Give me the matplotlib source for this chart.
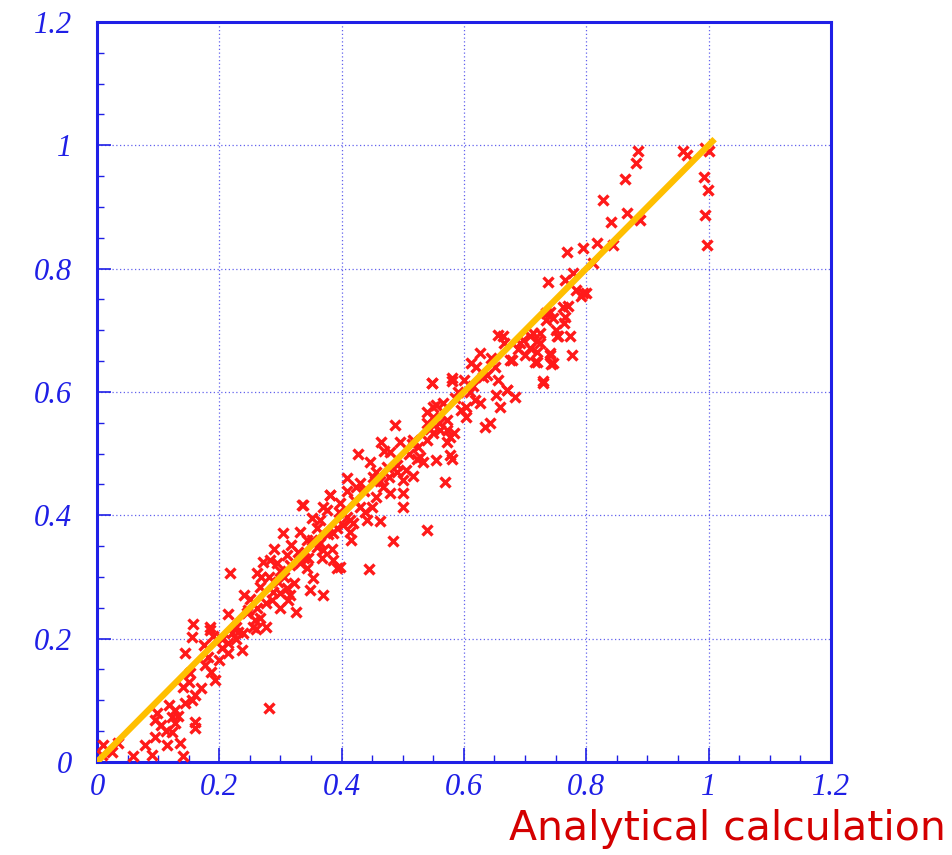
import matplotlib
matplotlib.use("Agg")
import matplotlib.pyplot as plt
import numpy as np

# red crosses (data units)
low_x = [0.010, 0.008, 0.025, 0.035, 0.059, 0.090, 0.141, 0.078, 0.114, 0.136, 0.095, 0.123,
         0.160, 0.160, 0.128, 0.095, 0.098, 0.123, 0.128, 0.144, 0.155, 0.160, 0.141, 0.152,
         0.193, 0.187, 0.177, 0.144, 0.156, 0.157, 0.185, 0.190, 0.221, 0.214, 0.230, 0.214,
         0.237, 0.258, 0.260, 0.247, 0.281, 0.217, 0.105, 0.118, 0.170, 0.200, 0.175, 0.112,
         0.132, 0.150, 0.182, 0.205, 0.228]
low_y = [0.028, 0.011, 0.016, 0.030, 0.010, 0.011, 0.010, 0.028, 0.028, 0.031, 0.041, 0.049,
         0.055, 0.065, 0.063, 0.068, 0.079, 0.073, 0.084, 0.096, 0.100, 0.109, 0.122, 0.144,
         0.133, 0.146, 0.157, 0.177, 0.202, 0.224, 0.214, 0.205, 0.209, 0.193, 0.211, 0.177,
         0.182, 0.230, 0.215, 0.246, 0.088, 0.306, 0.060, 0.092, 0.120, 0.165, 0.190, 0.050,
         0.075, 0.130, 0.170, 0.185, 0.200]

mid_x = [0.335, 0.381, 0.376, 0.408, 0.304, 0.332, 0.343, 0.318, 0.283, 0.294, 0.272, 0.310,
         0.332, 0.343, 0.359, 0.370, 0.386, 0.392, 0.354, 0.370, 0.348, 0.310, 0.299, 0.316,
         0.288, 0.266, 0.261, 0.277, 0.299, 0.326, 0.245, 0.266, 0.255, 0.228, 0.277, 0.185,
         0.239, 0.419, 0.416, 0.424, 0.397, 0.250, 0.268, 0.290, 0.305, 0.322, 0.360, 0.345,
         0.215, 0.205, 0.240, 0.262, 0.282, 0.300, 0.315, 0.328, 0.338, 0.352, 0.365, 0.378,
         0.392, 0.402, 0.286, 0.296, 0.312, 0.368, 0.384]
mid_y = [0.417, 0.433, 0.409, 0.398, 0.371, 0.373, 0.360, 0.352, 0.328, 0.322, 0.324, 0.336,
         0.322, 0.315, 0.349, 0.344, 0.328, 0.315, 0.298, 0.271, 0.279, 0.282, 0.274, 0.271,
         0.276, 0.284, 0.306, 0.258, 0.250, 0.243, 0.242, 0.233, 0.219, 0.219, 0.219, 0.219,
         0.209, 0.388, 0.360, 0.446, 0.316, 0.265, 0.300, 0.345, 0.300, 0.290, 0.380, 0.330,
         0.240, 0.200, 0.270, 0.250, 0.300, 0.310, 0.320, 0.340, 0.330, 0.360, 0.355, 0.370,
         0.380, 0.385, 0.262, 0.292, 0.262, 0.330, 0.345]

upper_x = [0.547, 0.580, 0.539, 0.555, 0.550, 0.572, 0.583, 0.561, 0.539, 0.572, 0.487, 0.465,
           0.479, 0.495, 0.523, 0.533, 0.555, 0.580, 0.427, 0.446, 0.457, 0.474, 0.506, 0.517,
           0.500, 0.569, 0.430, 0.468, 0.479, 0.500, 0.457, 0.449, 0.500, 0.408, 0.408, 0.381,
           0.370, 0.337, 0.430, 0.414, 0.441, 0.463, 0.414, 0.539, 0.365, 0.386, 0.445, 0.484,
           0.395, 0.455, 0.490, 0.515, 0.470, 0.352, 0.420, 0.436, 0.452, 0.462, 0.478, 0.490,
           0.510, 0.525, 0.545, 0.560, 0.438, 0.398]
upper_y = [0.614, 0.617, 0.568, 0.579, 0.560, 0.555, 0.533, 0.538, 0.522, 0.519, 0.546, 0.519,
           0.503, 0.519, 0.492, 0.487, 0.490, 0.492, 0.500, 0.487, 0.471, 0.479, 0.473, 0.463,
           0.457, 0.454, 0.452, 0.446, 0.436, 0.436, 0.430, 0.414, 0.414, 0.460, 0.440, 0.433,
           0.414, 0.417, 0.414, 0.392, 0.392, 0.390, 0.373, 0.376, 0.392, 0.371, 0.313, 0.358,
           0.405, 0.455, 0.470, 0.515, 0.505, 0.395, 0.425, 0.440, 0.462, 0.455, 0.462, 0.482,
           0.500, 0.510, 0.540, 0.550, 0.405, 0.420]

high_x = [0.656, 0.697, 0.713, 0.724, 0.708, 0.720, 0.735, 0.745, 0.752, 0.740, 0.746, 0.719,
          0.678, 0.626, 0.612, 0.620, 0.651, 0.637, 0.656, 0.580, 0.547, 0.730, 0.670, 0.683,
          0.653, 0.659, 0.626, 0.642, 0.634, 0.618, 0.604, 0.604, 0.566, 0.549, 0.540, 0.572,
          0.577, 0.550, 0.517, 0.528, 0.577, 0.590, 0.600, 0.688, 0.700, 0.665, 0.610, 0.595,
          0.585, 0.615, 0.632, 0.645]
high_y = [0.692, 0.684, 0.695, 0.679, 0.671, 0.665, 0.728, 0.720, 0.690, 0.663, 0.647, 0.649,
          0.652, 0.663, 0.647, 0.640, 0.641, 0.628, 0.619, 0.622, 0.614, 0.617, 0.603, 0.592,
          0.595, 0.576, 0.582, 0.549, 0.544, 0.587, 0.576, 0.560, 0.582, 0.576, 0.550, 0.538,
          0.527, 0.533, 0.522, 0.495, 0.498, 0.600, 0.620, 0.670, 0.660, 0.680, 0.600, 0.570,
          0.590, 0.610, 0.625, 0.655]

top_x = [0.841, 0.817, 0.844, 0.795, 0.768, 0.811, 0.738, 0.765, 0.784, 0.792, 0.800, 0.762,
         0.741, 0.765, 0.763, 0.735, 0.724, 0.708, 0.692, 0.720, 0.754, 0.773, 0.664, 0.675,
         0.716, 0.741, 0.743, 0.776, 0.730, 0.670, 0.885, 0.882, 0.863, 0.827, 0.866, 0.888,
         0.778, 0.795, 0.958, 0.965, 0.994, 1.000, 0.992, 0.999, 0.994, 0.997, 0.750, 0.770]
top_y = [0.876, 0.841, 0.838, 0.833, 0.827, 0.809, 0.779, 0.781, 0.765, 0.755, 0.760, 0.738,
         0.730, 0.722, 0.712, 0.717, 0.695, 0.690, 0.679, 0.683, 0.690, 0.690, 0.690, 0.652,
         0.649, 0.660, 0.646, 0.660, 0.614, 0.603, 0.991, 0.972, 0.946, 0.911, 0.890, 0.879,
         0.793, 0.760, 0.991, 0.985, 0.995, 0.990, 0.949, 0.928, 0.887, 0.838, 0.700, 0.740]

fit_x = [0.0, 1.01]
fit_y = [0.0, 1.01]

xs = np.concatenate([low_x, mid_x, upper_x, high_x, top_x])
ys = np.concatenate([low_y, mid_y, upper_y, high_y, top_y])

blue = "#1f1fe6"
fig = plt.figure(figsize=(9.53, 8.55), dpi=100)
ax = fig.add_axes([0.1018, 0.1088, 0.7700, 0.8655])

ax.plot(xs, ys, "x", color="#ff1a1a", ms=7, mew=2.4, zorder=3)
ax.plot(fit_x, fit_y, color="#ffbf00", lw=4.5, solid_capstyle="butt", zorder=4)

ax.set_xlim(0, 1.2)
ax.set_ylim(0, 1.2)
ticks = [0, 0.2, 0.4, 0.6, 0.8, 1, 1.2]
labels = ["0", "0.2", "0.4", "0.6", "0.8", "1", "1.2"]
ax.set_xticks(ticks)
ax.set_xticklabels(labels)
ax.set_yticks(ticks)
ax.set_yticklabels(labels)
ax.set_xticks(np.arange(0, 1.2, 0.05), minor=True)
ax.set_yticks(np.arange(0, 1.2, 0.05), minor=True)
ax.tick_params(which="major", direction="in", length=10, width=1.2, color=blue,
               labelcolor=blue, labelsize=22)
ax.tick_params(which="minor", direction="in", length=5, width=1, color=blue)
ax.tick_params(axis="y", which="major", pad=18)
ax.tick_params(axis="x", which="major", pad=8)
for lab in ax.get_xticklabels() + ax.get_yticklabels():
    lab.set_family("Liberation Serif")
    lab.set_style("italic")

ax.grid(True, which="major", color=blue, ls=(0, (1, 2)), lw=0.9, alpha=0.7)
for s in ax.spines.values():
    s.set_color(blue)
    s.set_linewidth(2.2)

fig.text(0.992, 0.018, "Analytical calculation", color="#d40000", fontsize=29.5,
         family="DejaVu Sans", ha="right", va="baseline")

fig.savefig("out.png", dpi=100)
